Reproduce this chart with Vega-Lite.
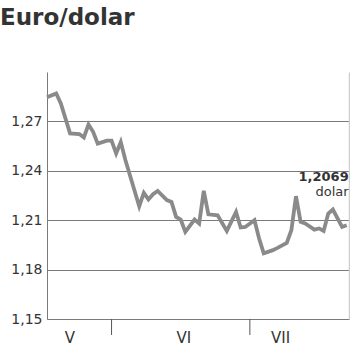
{
  "$schema": "https://vega.github.io/schema/vega-lite/v6.json",
  "width": 302,
  "height": 247,
  "autosize": {"type": "none"},
  "padding": {"left": 47, "top": 72, "right": 1, "bottom": 32},
  "background": "white",
  "title": {
    "text": "Euro/dolar",
    "anchor": "start",
    "frame": "group",
    "dx": -47,
    "offset": 24,
    "fontSize": 23,
    "fontWeight": "bold",
    "font": "DejaVu Sans",
    "color": "#333333",
    "baseline": "alphabetic"
  },
  "config": {"view": {"stroke": null}},
  "encoding": {
    "x": {
      "field": "date",
      "type": "temporal",
      "scale": {
        "type": "utc",
        "domain": [
          {"year": 2012, "month": 5, "date": 18, "utc": true},
          {"year": 2012, "month": 7, "date": 22, "hours": 12, "utc": true}
        ]
      },
      "axis": {
        "values": [
          {"year": 2012, "month": 5, "date": 22, "hours": 20, "utc": true},
          {"year": 2012, "month": 6, "date": 16, "hours": 14, "utc": true},
          {"year": 2012, "month": 7, "date": 7, "hours": 13, "utc": true}
        ],
        "labelExpr": "['I','II','III','IV','V','VI','VII','VIII','IX','X','XI','XII'][utcmonth(datum.value)]",
        "ticks": false,
        "grid": false,
        "domainColor": "#7a7a7a",
        "domainWidth": 1,
        "labelFont": "DejaVu Sans",
        "labelFontSize": 15,
        "labelColor": "#333333",
        "labelPadding": 11,
        "labelBound": false,
        "labelFlush": false,
        "labelOverlap": false,
        "title": null
      }
    }
  },
  "layer": [
    {
      "data": {"values": [{"date": "2012-06-01"}, {"date": "2012-07-01"}]},
      "mark": {"type": "rule", "color": "#555555", "strokeWidth": 1},
      "encoding": {
        "y": {"datum": 1.15, "type": "quantitative", "scale": {"domain": [1.15, 1.3], "zero": false, "nice": false}, "axis": null},
        "y2": {"datum": 1.1403}
      }
    },
    {
      "data": {
        "values": [
          {"date": "2012-05-18", "value": 1.2846},
          {"date": "2012-05-20", "value": 1.2870},
          {"date": "2012-05-21", "value": 1.2809},
          {"date": "2012-05-23", "value": 1.2627},
          {"date": "2012-05-25", "value": 1.2623},
          {"date": "2012-05-26", "value": 1.2603},
          {"date": "2012-05-27", "value": 1.2681},
          {"date": "2012-05-28", "value": 1.2637},
          {"date": "2012-05-29", "value": 1.2565},
          {"date": "2012-05-31", "value": 1.2583},
          {"date": "2012-06-01", "value": 1.2583},
          {"date": "2012-06-02", "value": 1.2505},
          {"date": "2012-06-03", "value": 1.2574},
          {"date": "2012-06-04", "value": 1.2465},
          {"date": "2012-06-07", "value": 1.2185},
          {"date": "2012-06-08", "value": 1.2266},
          {"date": "2012-06-09", "value": 1.2226},
          {"date": "2012-06-10", "value": 1.2258},
          {"date": "2012-06-11", "value": 1.2278},
          {"date": "2012-06-13", "value": 1.2222},
          {"date": "2012-06-14", "value": 1.2211},
          {"date": "2012-06-15", "value": 1.2120},
          {"date": "2012-06-16", "value": 1.2104},
          {"date": "2012-06-17", "value": 1.2029},
          {"date": "2012-06-19", "value": 1.2104},
          {"date": "2012-06-20", "value": 1.2080},
          {"date": "2012-06-21", "value": 1.2278},
          {"date": "2012-06-22", "value": 1.2136},
          {"date": "2012-06-24", "value": 1.2130},
          {"date": "2012-06-26", "value": 1.2035},
          {"date": "2012-06-28", "value": 1.2150},
          {"date": "2012-06-29", "value": 1.2056},
          {"date": "2012-06-30", "value": 1.2059},
          {"date": "2012-07-02", "value": 1.2100},
          {"date": "2012-07-03", "value": 1.1989},
          {"date": "2012-07-04", "value": 1.1899},
          {"date": "2012-07-06", "value": 1.1918},
          {"date": "2012-07-07", "value": 1.1932},
          {"date": "2012-07-09", "value": 1.1962},
          {"date": "2012-07-10", "value": 1.2039},
          {"date": "2012-07-11", "value": 1.2246},
          {"date": "2012-07-12", "value": 1.2090},
          {"date": "2012-07-13", "value": 1.2080},
          {"date": "2012-07-15", "value": 1.2043},
          {"date": "2012-07-16", "value": 1.2050},
          {"date": "2012-07-17", "value": 1.2035},
          {"date": "2012-07-18", "value": 1.2141},
          {"date": "2012-07-19", "value": 1.2165},
          {"date": "2012-07-21", "value": 1.2059},
          {"date": "2012-07-22", "value": 1.2069}
        ]
      },
      "mark": {"type": "line", "color": "#8a8a8a", "strokeWidth": 3.8},
      "encoding": {
        "y": {
          "field": "value",
          "type": "quantitative",
          "scale": {"domain": [1.15, 1.3], "zero": false, "nice": false},
          "axis": {
            "values": [1.15, 1.18, 1.21, 1.24, 1.27],
            "labelExpr": "replace(format(datum.value, '.2f'), '.', ',')",
            "grid": true,
            "gridColor": "#7a7a7a",
            "gridWidth": 1,
            "gridOpacity": 1,
            "ticks": false,
            "domainColor": "#7a7a7a",
            "labelFont": "DejaVu Sans",
            "labelFontSize": 14,
            "labelColor": "#333333",
            "labelPadding": 5,
            "labelBound": false,
            "labelFlush": false,
            "title": null
          }
        }
      }
    },
    {
      "data": {"values": [{"date": "2012-07-22", "value": 1.2069, "label": "1,2069", "unit": "dolar"}]},
      "mark": {"type": "text", "align": "right", "baseline": "alphabetic", "dx": 2, "dy": -44, "font": "DejaVu Sans", "fontWeight": "bold", "fontSize": 13, "color": "#333333"},
      "encoding": {
        "y": {
          "field": "value",
          "type": "quantitative",
          "scale": {"domain": [1.15, 1.3], "zero": false, "nice": false},
          "axis": {"orient": "right", "labels": false, "ticks": false, "grid": false, "domainColor": "#cfcfcf", "domainWidth": 1.5, "title": null}
        },
        "text": {"field": "label"}
      }
    },
    {
      "data": {"values": [{"date": "2012-07-22", "value": 1.2069, "label": "1,2069", "unit": "dolar"}]},
      "mark": {"type": "text", "align": "right", "baseline": "alphabetic", "dx": 2, "dy": -29, "font": "DejaVu Sans", "fontSize": 13, "color": "#333333"},
      "encoding": {
        "y": {"field": "value", "type": "quantitative", "scale": {"domain": [1.15, 1.3], "zero": false, "nice": false}, "axis": null},
        "text": {"field": "unit"}
      }
    }
  ],
  "resolve": {"axis": {"y": "independent"}}
}
